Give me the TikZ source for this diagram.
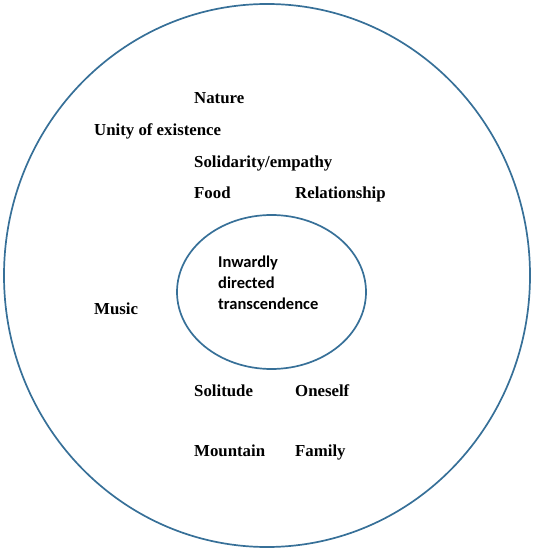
\documentclass[tikz,border=0pt]{standalone}
\usepackage{fontspec}
\setmainfont{Liberation Serif}
\newfontfamily\innerfont{Carlito}
\usetikzlibrary{shapes.geometric}
\definecolor{ringblue}{RGB}{55,112,152}
\tikzset{
  ring/.style={draw=ringblue, line width=1.7pt, ellipse, inner sep=0pt},
  lbl/.style={anchor=base west, inner sep=0pt, font=\fontsize{16.8}{20}\selectfont\bfseries},
  innerlbl/.style={anchor=base west, inner sep=0pt, align=left, font=\fontsize{16.5}{21}\selectfont\innerfont\bfseries}
}
\begin{document}
\begin{tikzpicture}[x=1pt,y=-1pt]
\useasboundingbox (0,0) rectangle (533,553);
\node[ring, minimum width=526pt, minimum height=543pt] (outer) at (267,275.5) {};
\node[ring, minimum width=189pt, minimum height=154pt] (inner) at (271.5,292) {};
\node[innerlbl] (core) at (218,309.5) {Inwardly\\directed\\transcendence};
\node[lbl] (nature) at (194,104) {Nature};
\node[lbl] (unity) at (94,136) {Unity of existence};
\node[lbl] (solid) at (194,168) {Solidarity/empathy};
\node[lbl] (food) at (194,199) {Food};
\node[lbl] (relat) at (295,199) {Relationship};
\node[lbl] (music) at (94,314) {Music};
\node[lbl] (solit) at (194,396) {Solitude};
\node[lbl] (ones) at (295,396) {Oneself};
\node[lbl] (mount) at (194,456) {Mountain};
\node[lbl] (family) at (295,456) {Family};
\end{tikzpicture}
\end{document}
